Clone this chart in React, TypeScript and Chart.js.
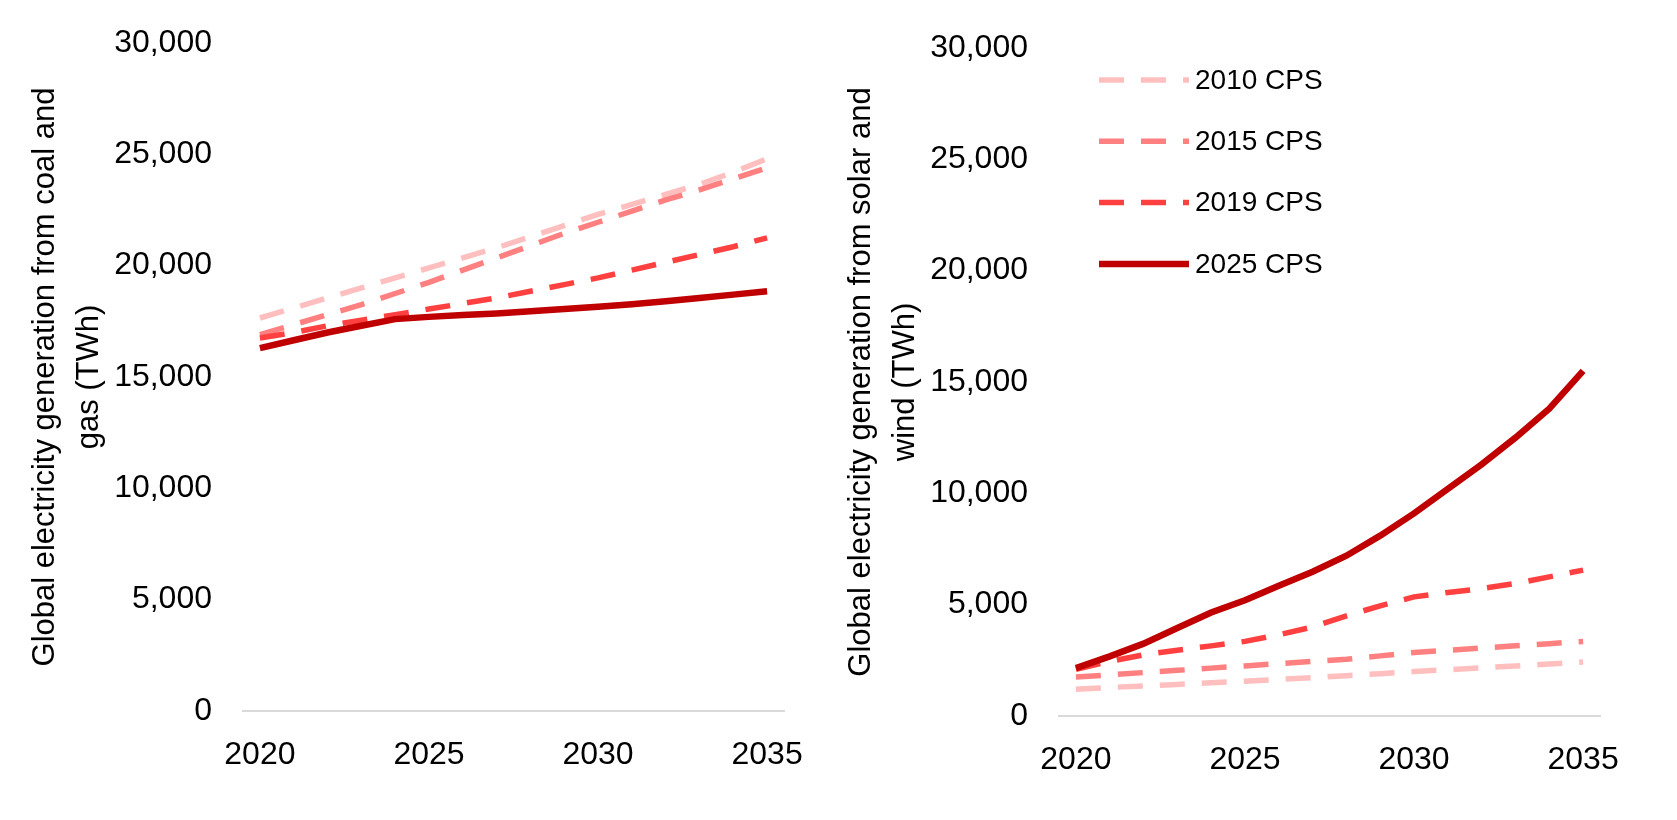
import React, { useEffect, useRef } from 'react';
import { Chart, registerables } from 'chart.js';

Chart.register(...registerables);

// ---------- data ----------
const YEARS = ['2020', '2021', '2022', '2023', '2024', '2025', '2026', '2027', '2028', '2029', '2030', '2031', '2032', '2033', '2034', '2035'];
const X_TICK_LABELS = ['2020', '2025', '2030', '2035'];
const SERIES_NAMES = ['2010 CPS', '2015 CPS', '2019 CPS', '2025 CPS'];

// Global electricity generation from coal and gas (TWh)
const COAL_GAS_2010 = [17650, 18100, 18550, 19000, 19450, 19900, 20350, 20800, 21300, 21800, 22300, 22750, 23200, 23650, 24200, 24800];
const COAL_GAS_2015 = [16900, 17350, 17800, 18250, 18750, 19250, 19800, 20350, 20900, 21450, 21950, 22450, 22950, 23400, 23900, 24400];
const COAL_GAS_2019 = [16750, 17000, 17300, 17550, 17800, 18050, 18300, 18550, 18850, 19150, 19450, 19800, 20150, 20500, 20850, 21250];
const COAL_GAS_2025 = [16300, 16650, 17000, 17300, 17600, 17700, 17780, 17850, 17950, 18050, 18150, 18270, 18400, 18550, 18700, 18850];

// Global electricity generation from solar and wind (TWh)
const SOLAR_WIND_2010 = [1200, 1280, 1350, 1420, 1490, 1560, 1640, 1720, 1810, 1900, 2000, 2080, 2160, 2250, 2330, 2420];
const SOLAR_WIND_2015 = [1750, 1850, 1950, 2050, 2150, 2250, 2350, 2450, 2550, 2700, 2850, 2950, 3050, 3150, 3250, 3350];
const SOLAR_WIND_2019 = [2100, 2450, 2750, 2950, 3150, 3350, 3650, 4000, 4500, 4950, 5350, 5550, 5720, 5950, 6250, 6550];
const SOLAR_WIND_2025 = [2150, 2680, 3250, 3950, 4650, 5200, 5850, 6480, 7200, 8100, 9100, 10200, 11300, 12500, 13800, 15500];

const Y_MIN = 0;
const Y_MAX = 30000;
const Y_STEP = 5000;

const LEFT_TITLE = ['Global electricity generation from coal and', 'gas (TWh)'];
const RIGHT_TITLE = ['Global electricity generation from solar and', 'wind (TWh)'];

// ---------- styles ----------
const COLORS = ['#FFBFBF', '#FF8080', '#FF4040', '#C00000'];
const DASHED = [true, true, true, false];
const FONT = '"Liberation Sans", Arial, sans-serif';

const legendPlugin = {
  id: 'cpsLegend',
  afterDraw(chart: any) {
    const { ctx, chartArea } = chart;
    const x0 = chartArea.left + 40;
    const lineLen = 90;
    ctx.save();
    chart.data.datasets.forEach((ds: any, i: number) => {
      const y = chartArea.top + 32 + i * 61.3;
      ctx.beginPath();
      ctx.strokeStyle = ds.borderColor;
      ctx.lineWidth = ds.borderWidth;
      ctx.lineCap = 'butt';
      ctx.setLineDash(ds.borderDash || []);
      ctx.moveTo(x0, y);
      ctx.lineTo(x0 + lineLen, y);
      ctx.stroke();
      ctx.setLineDash([]);
      ctx.fillStyle = '#000';
      ctx.font = `28px ${FONT}`;
      ctx.textBaseline = 'middle';
      ctx.textAlign = 'left';
      ctx.fillText(ds.label, x0 + lineLen + 6, y + 1);
    });
    ctx.restore();
  },
};

function makeConfig(series: number[][], title: string[], withLegend: boolean): any {
  return {
    type: 'line',
    data: {
      labels: YEARS,
      datasets: series.map((vals, i) => ({
        label: SERIES_NAMES[i],
        data: vals,
        borderColor: COLORS[i],
        backgroundColor: COLORS[i],
        borderWidth: DASHED[i] ? 5.5 : 6.5,
        borderDash: DASHED[i] ? [25, 17] : [],
        borderCapStyle: 'butt',
        pointRadius: 0,
        pointHoverRadius: 0,
        tension: 0,
        fill: false,
        order: 3 - i,
      })),
    },
    options: {
      responsive: false,
      animation: false,
      layout: { padding: { top: 32, right: 40, bottom: 10, left: 0 } },
      plugins: {
        legend: { display: false },
        tooltip: { enabled: false },
      },
      scales: {
        x: {
          type: 'category',
          offset: true,
          grid: { display: false, drawTicks: false },
          border: { display: true, color: '#D9D9D9', width: 2 },
          ticks: {
            autoSkip: false,
            maxRotation: 0,
            padding: 25,
            color: '#000',
            font: { family: FONT, size: 32 },
            callback: (_v: any, idx: number) => (X_TICK_LABELS.includes(YEARS[idx]) ? YEARS[idx] : null),
          },
          afterFit: (s: any) => {
            s.height = 70;
            s.paddingLeft = 0;
            s.paddingRight = 0;
          },
        },
        y: {
          min: Y_MIN,
          max: Y_MAX,
          grid: { display: false, drawTicks: false },
          border: { display: false },
          ticks: {
            stepSize: Y_STEP,
            padding: 31,
            color: '#000',
            font: { family: FONT, size: 32 },
            callback: (v: any) => Number(v).toLocaleString('en-US'),
          },
          title: {
            display: true,
            text: title,
            color: '#000',
            padding: { top: 16, bottom: 0 },
            font: { family: FONT, size: 31, lineHeight: 1.4 },
          },
          afterFit: (s: any) => {
            s.width = 235;
            s.paddingTop = 0;
            s.paddingBottom = 0;
          },
        },
      },
    },
    plugins: withLegend ? [legendPlugin] : [],
  };
}

function LineChart({ series, title, withLegend }: { series: number[][]; title: string[]; withLegend: boolean }) {
  const ref = useRef<HTMLCanvasElement | null>(null);
  useEffect(() => {
    if (!ref.current) return;
    const chart = new Chart(ref.current, makeConfig(series, title, withLegend));
    return () => chart.destroy();
  }, []);
  return <canvas ref={ref} width={816} height={780} style={{ display: 'block', width: 816, height: 780 }} />;
}

export default function App() {
  return (
    <div style={{ display: 'flex', flexDirection: 'row', alignItems: 'flex-start', marginTop: 3 }}>
      <LineChart series={[COAL_GAS_2010, COAL_GAS_2015, COAL_GAS_2019, COAL_GAS_2025]} title={LEFT_TITLE} withLegend={false} />
      <div style={{ marginTop: 5 }}>
        <LineChart series={[SOLAR_WIND_2010, SOLAR_WIND_2015, SOLAR_WIND_2019, SOLAR_WIND_2025]} title={RIGHT_TITLE} withLegend={true} />
      </div>
    </div>
  );
}
